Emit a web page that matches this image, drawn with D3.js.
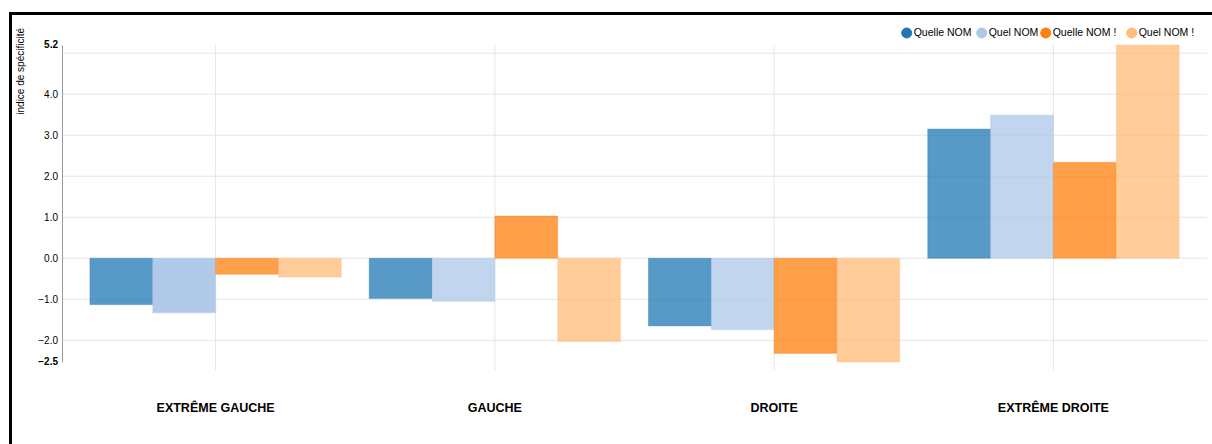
<!DOCTYPE html>
<html><head><meta charset="utf-8">
<script src="https://cdn.jsdelivr.net/npm/d3@7"></script>
<style>
body{margin:0;background:#fff;}
svg{display:block;font-family:Arial,"Liberation Sans",Helvetica,sans-serif;}
</style></head>
<body>
<svg id="c" width="1212" height="444"></svg>
<script>
const categories = ["EXTRÊME GAUCHE", "GAUCHE", "DROITE", "EXTRÊME DROITE"];
const seriesNames = ["Quelle NOM", "Quel NOM", "Quelle NOM !", "Quel NOM !"];
const quelleNom = [-1.13, -0.98, -1.65, 3.15];
const quelNom = [-1.33, -1.05, -1.74, 3.49];
const quelleNomExcl = [-0.39, 1.03, -2.32, 2.34];
const quelNomExcl = [-0.46, -2.03, -2.53, 5.2];
const seriesColors = ["#1f77b4", "#aec7e8", "#ff7f0e", "#ffbb78"];
const yTicks = [-2, -1, 0, 1, 2, 3, 4, 5];
const yTitle = "indice de spécificité";

const seriesValues = [quelleNom, quelNom, quelleNomExcl, quelNomExcl];
const svg = d3.select("#c");

// frame
svg.append("rect").attr("x",10.5).attr("y",13.5).attr("width",1400).attr("height",600)
  .attr("fill","none").attr("stroke","#000").attr("stroke-width",3);

const mLeft = 62, mRight = 1207, mTop = 45, mBottom = 362;
const allVals = seriesValues.flat();
const yMin = d3.min(allVals), yMax = d3.max(allVals);
const y = d3.scaleLinear().domain([yMin, yMax]).range([mBottom, mTop]);
const x0 = d3.scaleBand().domain(categories).range([mLeft, mRight]).padding(0.1);
const x1 = d3.scaleBand().domain(seriesNames).range([0, x0.bandwidth()]);

const g = svg.append("g");
// horizontal gridlines
g.selectAll("line.hg").data(yTicks).join("line")
  .attr("x1", mLeft).attr("x2", mRight)
  .attr("y1", d=>y(d)).attr("y2", d=>y(d))
  .attr("stroke","#e5e5e5").attr("stroke-width",1);
// vertical gridlines at category centers
g.selectAll("line.vg").data(categories).join("line")
  .attr("x1", d=>x0(d)+x0.bandwidth()/2).attr("x2", d=>x0(d)+x0.bandwidth()/2)
  .attr("y1", mTop).attr("y2", mBottom+8)
  .attr("stroke","#e5e5e5").attr("stroke-width",1);

// bars
const rows = [];
categories.forEach((c,i)=>seriesNames.forEach((s,j)=>rows.push({c,s,j,v:seriesValues[j][i],hover:(i===0&&j===1)})));
g.selectAll("rect.bar").data(rows).join("rect")
  .attr("x", d=>x0(d.c)+x1(d.s))
  .attr("width", x1.bandwidth())
  .attr("y", d=>y(Math.max(0,d.v)))
  .attr("height", d=>Math.abs(y(d.v)-y(0)))
  .attr("fill", d=>seriesColors[d.j])
  .attr("fill-opacity", d=>d.hover?0.95:0.75)
  .attr("stroke", d=>seriesColors[d.j])
  .attr("stroke-opacity", 0.35)
  .attr("stroke-width",1);

// y axis
const yAxis = d3.axisLeft(y).tickValues(yTicks.filter(t=>Math.abs(y(t)-y(yMax))>12 && Math.abs(y(t)-y(yMin))>12)).tickFormat(d3.format(".1f")).tickSize(0).tickPadding(4);
const ya = svg.append("g").attr("transform",`translate(${mLeft},0)`).call(yAxis);
ya.select(".domain").attr("stroke","#999");
ya.selectAll("text").attr("font-size",10).attr("fill","#000").attr("font-family","Arial, Liberation Sans, sans-serif");
// extreme labels
const ext = [yMax, yMin];
svg.selectAll("text.ext").data(ext).join("text")
  .attr("x", mLeft-4).attr("y", d=>y(d)).attr("dy","0.32em")
  .attr("text-anchor","end").attr("font-size",10).attr("font-weight","bold")
  .text(d=>d3.format(".1f")(d));

// y title
svg.append("text").attr("transform","translate(24,28) rotate(-90)")
  .attr("text-anchor","end").attr("font-size",10).attr("fill","#000").text(yTitle);

// x labels
svg.selectAll("text.xl").data(categories).join("text")
  .attr("x", d=>x0(d)+x0.bandwidth()/2).attr("y", 412)
  .attr("text-anchor","middle").attr("font-size",12.5).attr("font-weight","bold")
  .text(d=>d);

// legend
const legendX = [906.7, 981.7, 1045.7, 1131.7];
const lg = svg.selectAll("g.lg").data(seriesNames).join("g")
  .attr("transform",(d,i)=>`translate(${legendX[i]},33)`);
lg.append("circle").attr("r",5).attr("fill",(d,i)=>seriesColors[i]).attr("stroke",(d,i)=>seriesColors[i]);
lg.append("text").attr("x",7).attr("dy","0.32em").attr("font-size",10.5).text(d=>d);
</script>
</body></html>
